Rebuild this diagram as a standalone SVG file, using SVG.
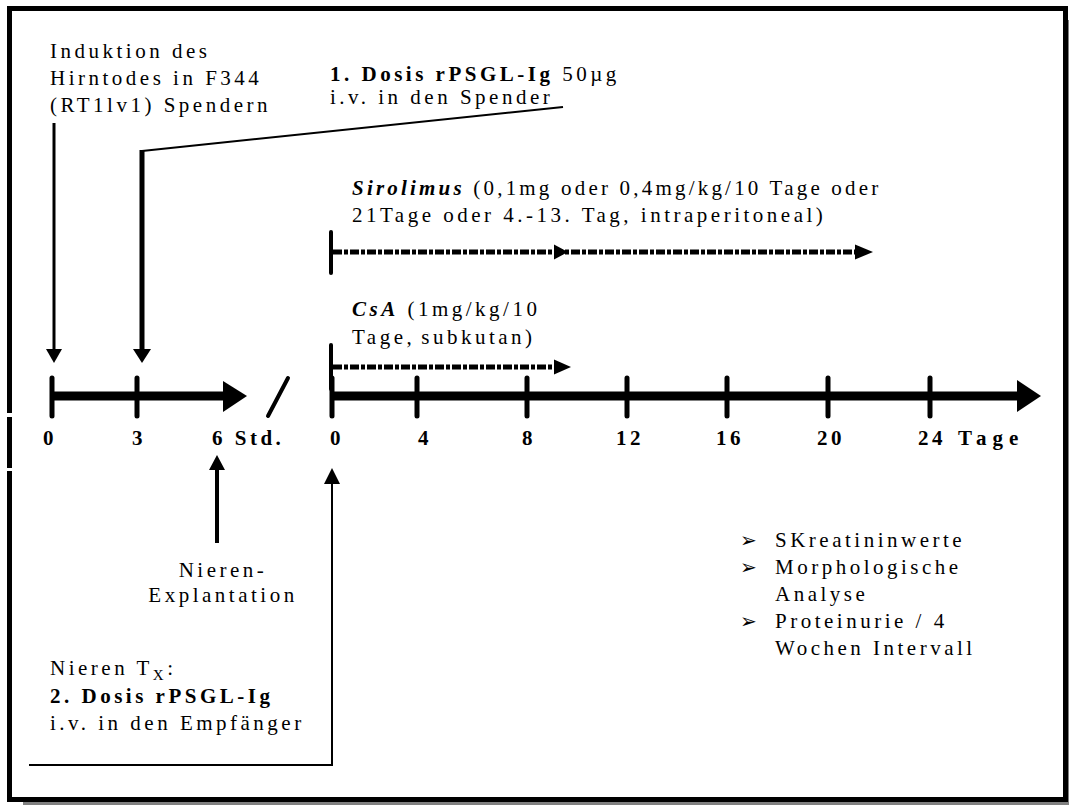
<svg xmlns="http://www.w3.org/2000/svg" width="1069" height="805" viewBox="0 0 1069 805">
<style>
text{font-family:"Liberation Serif","Times New Roman",serif;font-size:21px;letter-spacing:3.5px;fill:#000}
.b{font-weight:bold}
.bi{font-weight:bold;font-style:italic}
.thin{stroke:#000;stroke-width:2;fill:none}
.thick{stroke:#000;stroke-width:5;fill:none}
.tick{stroke:#000;stroke-width:5;stroke-linecap:round}
.ax{stroke:#000;stroke-width:9}
.dash{stroke:#000;stroke-width:5;stroke-dasharray:9 2 4 2;fill:none}
.ah{fill:#000}
.bul{font-family:"DejaVu Sans",sans-serif;font-size:20px;letter-spacing:0}
</style>
<rect width="1069" height="805" fill="#fff"/>
<g id="frame">
<rect x="23" y="802" width="1046" height="3" fill="#808080"/>
<rect x="1068" y="20" width="1" height="785" fill="#808080"/>
<rect x="9.5" y="8.5" width="1056" height="791" fill="none" stroke="#000" stroke-width="5"/>
<rect x="6" y="413" width="8" height="4" fill="#fff"/>
<rect x="6" y="468" width="8" height="3" fill="#fff"/>
</g>
<g id="axis-hours">
<line class="ax" x1="52" y1="396" x2="226" y2="396"/>
<polygon class="ah" points="223,381 247,396 223,412"/>
<line class="tick" x1="52" y1="378" x2="52" y2="416"/>
<line class="tick" x1="137" y1="378" x2="137" y2="416"/>
<line class="tick" style="stroke-width:4" x1="288" y1="378" x2="268" y2="416"/>
<text class="b" x="43" y="445">0</text>
<text class="b" x="132" y="445">3</text>
<text class="b" x="212" y="445">6 Std.</text>
</g>
<g id="axis-days">
<line class="ax" x1="332" y1="396" x2="1019" y2="396"/>
<polygon class="ah" points="1017,380 1041,396 1017,412"/>
<line class="tick" x1="332" y1="378" x2="332" y2="416"/>
<line class="tick" x1="417" y1="378" x2="417" y2="416"/>
<line class="tick" x1="527" y1="378" x2="527" y2="416"/>
<line class="tick" x1="627" y1="378" x2="627" y2="416"/>
<line class="tick" x1="727" y1="378" x2="727" y2="416"/>
<line class="tick" x1="828" y1="378" x2="828" y2="416"/>
<line class="tick" x1="930" y1="378" x2="930" y2="416"/>
<text class="b" x="330" y="445">0</text>
<text class="b" x="418" y="445">4</text>
<text class="b" x="522" y="445">8</text>
<text class="b" x="616" y="445">12</text>
<text class="b" x="716" y="445">16</text>
<text class="b" x="817" y="445">20</text>
<text class="b" x="918" y="445">24<tspan dx="12" style="letter-spacing:6px">Tage</tspan></text>
</g>
<g id="induktion">
<text x="50" y="58">Induktion des</text>
<text x="50" y="85">Hirntodes in F344</text>
<text x="50" y="112">(RT1lv1) Spendern</text>
</g>
<g id="dosis1">
<text x="330" y="81"><tspan class="b">1. Dosis rPSGL-Ig</tspan> 50µg</text>
<text x="330" y="104">i.v. in den Spender</text>
</g>
<g id="sirolimus">
<text x="352" y="195" style="letter-spacing:3.2px"><tspan class="bi">Sirolimus</tspan> (0,1mg oder 0,4mg/kg/10 Tage oder</text>
<text x="352" y="222">21Tage oder 4.-13. Tag, intraperitoneal)</text>
<line class="tick" style="stroke-width:4" x1="331" y1="232" x2="331" y2="273"/>
<line class="dash" x1="333" y1="252" x2="855" y2="252"/>
<polygon class="ah" points="554,244.5 568,252 554,259.5"/>
<polygon class="ah" points="855,244.5 873,252 855,259.5"/>
</g>
<g id="csa">
<text x="352" y="316"><tspan class="bi">CsA</tspan> (1mg/kg/10</text>
<text x="352" y="344">Tage,<tspan dx="6">subkutan)</tspan></text>
<line class="tick" style="stroke-width:4" x1="331" y1="345" x2="331" y2="389"/>
<line class="dash" x1="333" y1="367" x2="555" y2="367"/>
<polygon class="ah" points="554,359.5 571,367 554,374.5"/>
</g>
<g id="explantation">
<text x="223" y="577" text-anchor="middle">Nieren-</text>
<text x="223" y="602" text-anchor="middle">Explantation</text>
</g>
<g id="transplantation">
<text x="50" y="675">Nieren T<tspan dy="5" font-size="15">X</tspan><tspan dy="-5">:</tspan></text>
<text class="b" x="50" y="703">2. Dosis rPSGL-Ig</text>
<text x="50" y="730">i.v. in den Empfänger</text>
</g>
<g id="analysen">
<text class="bul" x="740" y="547">➢</text>
<text x="775" y="547">SKreatininwerte</text>
<text class="bul" x="740" y="574">➢</text>
<text x="775" y="574">Morphologische</text>
<text x="775" y="601">Analyse</text>
<text class="bul" x="740" y="628">➢</text>
<text x="775" y="628">Proteinurie / 4</text>
<text x="775" y="655">Wochen Intervall</text>
</g>
<g id="connectors">
<line class="thin" style="stroke-width:3" x1="54" y1="123" x2="54" y2="350"/>
<polygon class="ah" points="46,349 54,363 62,349"/>
<line class="thick" x1="142" y1="150" x2="142" y2="350"/>
<polygon class="ah" points="133,349 142,363 151,349"/>
<line class="thin" x1="142" y1="151" x2="563" y2="107"/>
<line class="thick" style="stroke-width:4" x1="217" y1="543" x2="217" y2="468"/>
<polygon class="ah" points="209,470 217,455 225,470"/>
<polyline class="thin" points="29,765 332,765 332,482"/>
<polygon class="ah" points="324,484 332,468 340,484"/>
</g>
</svg>
